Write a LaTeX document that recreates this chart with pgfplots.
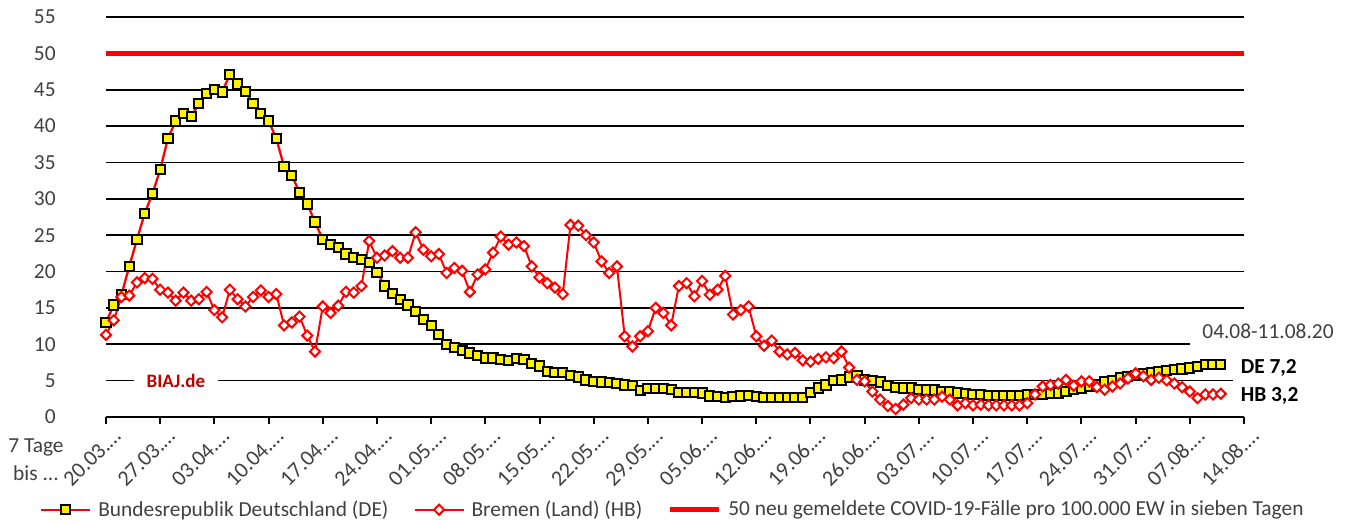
\documentclass[border=0pt]{standalone}
\usepackage{fontspec}
\setmainfont{Carlito}
\usepackage{pgfplots}
\pgfplotsset{compat=1.18}
\usepackage{pgfplotstable}
\definecolor{txt}{HTML}{404040}
\definecolor{biaj}{HTML}{C00000}
\tikzset{xtl/.style={rotate=45, anchor=north east, inner xsep=1.4pt, inner ysep=5.7pt,
  text height=7pt, text depth=0pt, font=\fontsize{11}{13}\selectfont, text=txt}}

\pgfplotstableread{
x y
0 13.0
1 15.4
2 16.8
3 20.7
4 24.4
5 28.0
6 30.7
7 34.0
8 38.3
9 40.7
10 41.7
11 41.3
12 43.1
13 44.5
14 45.0
15 44.7
16 47.1
17 45.8
18 44.8
19 43.1
20 41.7
21 40.7
22 38.3
23 34.4
24 33.2
25 30.9
26 29.3
27 26.8
28 24.4
29 23.7
30 23.3
31 22.4
32 21.9
33 21.7
34 21.2
35 19.9
36 18.0
37 17.0
38 16.2
39 15.4
40 14.5
41 13.4
42 12.6
43 11.3
44 10.0
45 9.6
46 9.1
47 8.8
48 8.5
49 8.1
50 8.1
51 7.9
52 7.8
53 8.0
54 7.9
55 7.4
56 7.0
57 6.3
58 6.1
59 6.1
60 5.7
61 5.5
62 5.1
63 4.9
64 4.8
65 4.7
66 4.6
67 4.4
68 4.3
69 3.6
70 3.9
71 3.9
72 3.9
73 3.8
74 3.4
75 3.4
76 3.4
77 3.3
78 2.9
79 2.8
80 2.7
81 2.8
82 2.9
83 3.0
84 2.8
85 2.7
86 2.7
87 2.7
88 2.7
89 2.7
90 2.7
91 3.4
92 4.0
93 4.4
94 5.0
95 5.1
96 5.5
97 5.7
98 5.1
99 5.0
100 4.8
101 4.3
102 4.1
103 4.0
104 4.0
105 3.8
106 3.7
107 3.7
108 3.5
109 3.5
110 3.3
111 3.2
112 3.1
113 3.1
114 3.0
115 3.0
116 3.0
117 3.0
118 3.0
119 3.1
120 3.1
121 3.1
122 3.2
123 3.3
124 3.5
125 3.75
126 3.9
127 4.2
128 4.45
129 4.8
130 5.05
131 5.4
132 5.6
133 5.7
134 6.0
135 6.15
136 6.3
137 6.4
138 6.5
139 6.6
140 6.75
141 6.9
142 7.2
143 7.2
144 7.2
}\dedata

\pgfplotstableread{
x y
0 11.3
1 13.3
2 16.5
3 16.7
4 18.5
5 19.1
6 19.0
7 17.5
8 17.1
9 16.0
10 17.1
11 16.0
12 16.2
13 17.2
14 14.7
15 13.7
16 17.5
17 16.2
18 15.2
19 16.5
20 17.4
21 16.5
22 16.9
23 12.6
24 13.0
25 13.8
26 11.2
27 9.0
28 15.2
29 14.3
30 15.3
31 17.2
32 17.1
33 18.0
34 24.2
35 21.9
36 22.2
37 22.8
38 21.9
39 21.9
40 25.4
41 23.0
42 22.1
43 22.4
44 19.8
45 20.5
46 20.1
47 17.2
48 19.6
49 20.3
50 22.6
51 24.8
52 23.7
53 24.0
54 23.5
55 20.7
56 19.2
57 18.4
58 17.8
59 16.9
60 26.4
61 26.3
62 25.0
63 24.0
64 21.4
65 19.8
66 20.7
67 11.1
68 9.7
69 11.1
70 11.8
71 15.0
72 14.3
73 12.6
74 18.0
75 18.4
76 16.6
77 18.7
78 16.8
79 17.5
80 19.4
81 14.1
82 14.7
83 15.2
84 11.1
85 9.8
86 10.5
87 9.0
88 8.6
89 8.8
90 7.8
91 7.6
92 8.0
93 8.2
94 8.1
95 9.0
96 6.8
97 5.1
98 4.9
99 3.5
100 2.4
101 1.5
102 1.1
103 1.7
104 2.6
105 2.4
106 2.4
107 2.4
108 2.8
109 2.4
110 1.6
111 1.9
112 1.6
113 1.7
114 1.6
115 1.6
116 1.6
117 1.6
118 1.6
119 1.9
120 3.1
121 4.2
122 4.4
123 4.6
124 5.1
125 4.3
126 4.9
127 4.9
128 4.1
129 3.75
130 4.2
131 4.6
132 5.3
133 6.0
134 5.6
135 5.1
136 5.4
137 5.05
138 4.6
139 4.1
140 3.5
141 2.6
142 3.1
143 3.1
144 3.2
}\hbdata

\begin{document}
\begin{tikzpicture}
\useasboundingbox (-53pt,-53pt) rectangle (623.5pt,208.5pt);
\begin{axis}[
  at={(0pt,0pt)}, anchor=south west,
  width=569pt, height=200pt, scale only axis,
  xmin=0, xmax=147, ymin=0, ymax=55,
  clip=false,
  axis x line=bottom, axis y line=left,
  x axis line style={-, line width=1.25pt, black},
  y axis line style={draw=none},
  xtick={0,7,...,147},
  xticklabels={},
  ytick={0,5,...,55},
  ymajorgrids,
  major grid style={black, line width=0.85pt},
  ytick style={draw=none},
  xtick style={black, line width=1pt},
  tick align=outside,
  major tick length=3.5pt,
  tick label style={font=\fontsize{10.7}{13}\selectfont, text=txt},
  /pgf/number format/assume math mode=true,
  yticklabel style={anchor=east, inner sep=0pt, xshift=-21.5pt},
  legend columns=3,
  legend style={at={(-0.058,-0.2318)}, anchor=west, draw=none, fill=none,
    inner sep=0pt, outer sep=0pt,
    font=\fontsize{10.7}{13}\selectfont\color{txt},
    /tikz/every odd column/.append style={column sep=1.5pt},
    /tikz/every even column/.append style={column sep=10.5pt}},
  legend image code/.code={\draw[mark repeat=2, mark phase=2, #1] plot coordinates {(0pt,0pt) (12.25pt,0pt) (24.5pt,0pt)};},
]
\addplot[red, line width=1.15pt, mark=square*, mark size=2.3pt,
  mark options={fill=yellow, draw=black, line width=1pt, solid}] table[x=x,y=y] {\dedata};
\addlegendentry{Bundesrepublik Deutschland (DE)}
\addplot[red, line width=1pt, mark=square*, mark size=1.8pt,
  mark options={rotate=45, fill=white, draw=red, line width=1pt, solid}] table[x=x,y=y] {\hbdata};
\addlegendentry{Bremen (Land) (HB)}
\addplot[red, line width=2.5pt] coordinates {(0,50) (147,50)};
\addlegendentry{50 neu gemeldete COVID-19-Fälle pro 100.000 EW in sieben Tagen}

\node[xtl] at (axis cs:0,0) {20.03.…};
\node[xtl] at (axis cs:7,0) {27.03.…};
\node[xtl] at (axis cs:14,0) {03.04.…};
\node[xtl] at (axis cs:21,0) {10.04.…};
\node[xtl] at (axis cs:28,0) {17.04.…};
\node[xtl] at (axis cs:35,0) {24.04.…};
\node[xtl] at (axis cs:42,0) {01.05.…};
\node[xtl] at (axis cs:49,0) {08.05.…};
\node[xtl] at (axis cs:56,0) {15.05.…};
\node[xtl] at (axis cs:63,0) {22.05.…};
\node[xtl] at (axis cs:70,0) {29.05.…};
\node[xtl] at (axis cs:77,0) {05.06.…};
\node[xtl] at (axis cs:84,0) {12.06.…};
\node[xtl] at (axis cs:91,0) {19.06.…};
\node[xtl] at (axis cs:98,0) {26.06.…};
\node[xtl] at (axis cs:105,0) {03.07.…};
\node[xtl] at (axis cs:112,0) {10.07.…};
\node[xtl] at (axis cs:119,0) {17.07.…};
\node[xtl] at (axis cs:126,0) {24.07.…};
\node[xtl] at (axis cs:133,0) {31.07.…};
\node[xtl] at (axis cs:140,0) {07.08.…};
\node[xtl] at (axis cs:147,0) {14.08.…};

\node[fill=white, inner sep=0pt, minimum width=42pt, minimum height=10pt, text=biaj,
  font=\bfseries\fontsize{9.5}{11}\selectfont] at (axis cs:9.04,5) {BIAJ.de};
\node[fill=white, inner sep=0pt, minimum width=78pt, minimum height=18pt, text=txt,
  font=\fontsize{10.7}{13}\selectfont] at (axis cs:150.1,11.83) {04.08-11.08.20};
\node[fill=white, inner sep=0pt, minimum width=36pt, minimum height=15pt, text=black,
  font=\bfseries\fontsize{10.7}{13}\selectfont] at (axis cs:150.2,6.74) {DE 7,2};
\node[inner sep=0pt, text=black,
  font=\bfseries\fontsize{10.7}{13}\selectfont] at (axis cs:150.3,2.89) {HB 3,2};
\node[inner sep=0pt, align=center, text=txt,
  font=\fontsize{10.7}{14}\selectfont] at (axis cs:-9.04,-5.9) {7 Tage\\bis ...};
\end{axis}
\end{tikzpicture}
\end{document}
